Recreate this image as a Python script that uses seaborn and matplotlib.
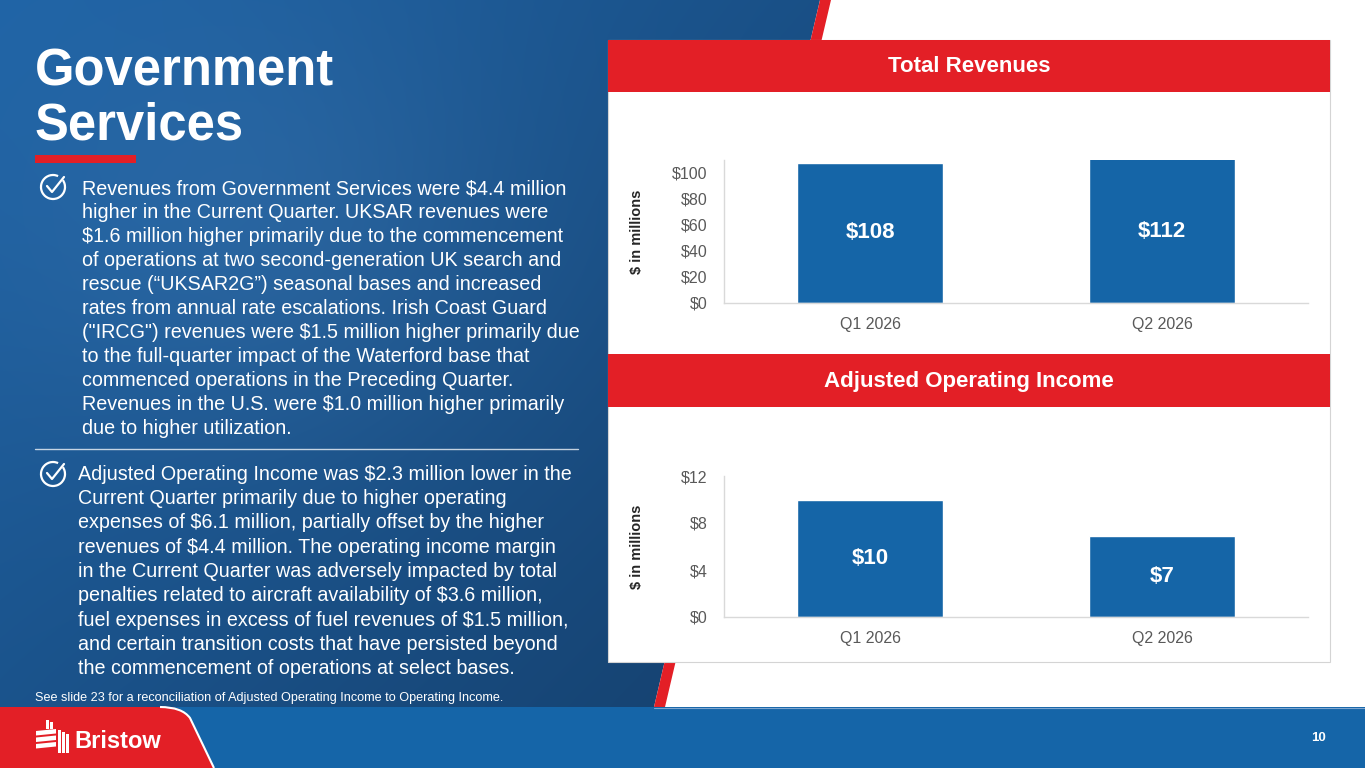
import numpy as np
import pandas as pd
import matplotlib
matplotlib.use("Agg")
import matplotlib.pyplot as plt
import seaborn as sns
from matplotlib.patches import Polygon, Rectangle, PathPatch, Arc
from matplotlib.path import Path
from matplotlib import font_manager

# ---------------- data ----------------
quarters = ["Q1 2026", "Q2 2026"]
revenues = [108, 112]
revenue_labels = ["$108", "$112"]
revenue_ticks = [0, 20, 40, 60, 80, 100]
aoi = [10.0, 6.9]
aoi_labels = ["$10", "$7"]
aoi_ticks = [0, 4, 8, 12]

title_lines = ["Government", "Services"]
bullet1 = [
    "Revenues from Government Services were $4.4 million",
    "higher in the Current Quarter. UKSAR revenues were",
    "$1.6 million higher primarily due to the commencement",
    "of operations at two second-generation UK search and",
    "rescue (\u201cUKSAR2G\u201d) seasonal bases and increased",
    "rates from annual rate escalations. Irish Coast Guard",
    "(\"IRCG\") revenues were $1.5 million higher primarily due",
    "to the full-quarter impact of the Waterford base that",
    "commenced operations in the Preceding Quarter.",
    "Revenues in the U.S. were $1.0 million higher primarily",
    "due to higher utilization.",
]
bullet2 = [
    "Adjusted Operating Income was $2.3 million lower in the",
    "Current Quarter primarily due to higher operating",
    "expenses of $6.1 million, partially offset by the higher",
    "revenues of $4.4 million. The operating income margin",
    "in the Current Quarter was adversely impacted by total",
    "penalties related to aircraft availability of $3.6 million,",
    "fuel expenses in excess of fuel revenues of $1.5 million,",
    "and certain transition costs that have persisted beyond",
    "the commencement of operations at select bases.",
]
footnote = "See slide 23 for a reconciliation of Adjusted Operating Income to Operating Income."
page_number = "10"

# ---------------- style ----------------
RED = "#e31f26"
BAR = "#1565a7"
BAND = "#1565a8"
TICK = "#595959"

sns.set_theme(style="white")
plt.rcParams["font.family"] = ["Liberation Sans", "DejaVu Sans"]
plt.rcParams["text.parse_math"] = False

names = {f.name for f in font_manager.fontManager.ttflist}
logo_font = "Liberation Sans Narrow" if "Liberation Sans Narrow" in names else "Liberation Sans"

W, H = 1365, 768
fig = plt.figure(figsize=(W / 100, H / 100), dpi=100)
fig.patch.set_facecolor("white")

bg = fig.add_axes([0, 0, 1, 1])
bg.set_xlim(0, W)
bg.set_ylim(H, 0)
bg.axis("off")
bg.set_zorder(0)

# blue gradient background (left region)
yy, xx = np.mgrid[0:H, 0:W].astype(float)
t = np.clip(0.55 * xx / 820 + 0.45 * yy / 707, 0, 1)
glow = np.exp(-(((xx - 260) / 260) ** 2 + ((yy - 230) / 230) ** 2))
c1 = np.array([0x1f, 0x63, 0xa5]) / 255
c2 = np.array([0x15, 0x40, 0x6d]) / 255
img = c1[None, None, :] * (1 - t[..., None]) + c2[None, None, :] * t[..., None]
img = np.clip(img + 0.05 * glow[..., None], 0, 1)
im = bg.imshow(img, extent=[0, W, H, 0], zorder=0, interpolation="bilinear")
blue_poly = Polygon([(0, 0), (820, 0), (654, 707), (0, 707)], closed=True,
                    transform=bg.transData, fc="none", ec="none")
bg.add_patch(blue_poly)
im.set_clip_path(blue_poly)
bg.set_xlim(0, W)
bg.set_ylim(H, 0)

# red slanted stripe
bg.add_patch(Polygon([(820, 0), (831, 0), (665, 707), (654, 707)], closed=True,
                     fc=RED, ec="none", zorder=1))

# title
bg.text(35, 86, title_lines[0], color="white", fontsize=36.5, fontweight="bold",
        va="baseline", ha="left", zorder=3)
bg.text(35, 140, title_lines[1], color="white", fontsize=36.5, fontweight="bold",
        va="baseline", ha="left", zorder=3)
bg.add_patch(Rectangle((35, 155), 101, 8, fc=RED, ec="none", zorder=3))


def check_icon(cx, cy, r=12):
    bg.add_patch(Arc((cx, cy), 2 * r, 2 * r, theta1=-35, theta2=295,
                     color="white", lw=1.6, zorder=3))
    bg.plot([cx - 6, cx - 1, cx + 11], [cy - 1, cy + 5, cy - 10],
            color="white", lw=1.6, solid_capstyle="round", zorder=3)


# bullets
check_icon(53, 187)
for i, line in enumerate(bullet1):
    bg.text(82, 194 + 24 * i, line, color="white", fontsize=14.2,
            va="baseline", ha="left", zorder=3)
bg.plot([35, 578], [449, 449], color="white", lw=1, alpha=0.75, zorder=3)
check_icon(53, 474)
for i, line in enumerate(bullet2):
    bg.text(78, 480 + 24.25 * i, line, color="white", fontsize=14.2,
            va="baseline", ha="left", zorder=3)
bg.text(35, 698, footnote, color="white", fontsize=9.1, va="center", ha="left", zorder=3)

# right panel
bg.add_patch(Rectangle((608, 40), 722, 622, fc="white", ec="#d4d4d4", lw=0.8, zorder=2))
bg.add_patch(Rectangle((608, 40), 722, 52, fc=RED, ec="none", zorder=2.5))
bg.add_patch(Rectangle((608, 354), 722, 53, fc=RED, ec="none", zorder=2.5))
bg.text(969, 67, "Total Revenues", color="white", fontsize=16, fontweight="bold",
        ha="center", va="center", zorder=3)
bg.text(969, 381, "Adjusted Operating Income", color="white", fontsize=16,
        fontweight="bold", ha="center", va="center", zorder=3)

# bottom band
bg.add_patch(Rectangle((0, 707), W, 61, fc=BAND, ec="none", zorder=2))
bg.plot([654, W], [707.5, 707.5], color="#7fa6cf", lw=0.8, zorder=2.2)
verts = [(0, 707), (168, 707), (182, 707), (190, 718), (214, 768), (0, 768), (0, 707)]
codes = [Path.MOVETO, Path.LINETO, Path.CURVE3, Path.CURVE3, Path.LINETO, Path.LINETO, Path.CLOSEPOLY]
bg.add_patch(PathPatch(Path(verts, codes), fc=RED, ec="none", zorder=2.5))
edge_verts = [(160, 707), (182, 707), (190, 718), (214, 768)]
edge_codes = [Path.MOVETO, Path.CURVE3, Path.CURVE3, Path.LINETO]
bg.add_patch(PathPatch(Path(edge_verts, edge_codes), fc="none", ec="white", lw=1.5, zorder=2.6))

# logo mark
for k in range(3):
    y0 = 731 + 6.5 * k
    bg.add_patch(Polygon([(36, y0), (56, y0 - 2), (56, y0 + 2.5), (36, y0 + 4.5)],
                         fc="white", ec="none", zorder=3))
for k in range(3):
    x0 = 58 + 4 * k
    bg.add_patch(Rectangle((x0, 730 + 2 * k), 2.6, 23 - 2 * k, fc="white", ec="none", zorder=3))
for k in range(2):
    x0 = 46 + 4 * k
    bg.add_patch(Rectangle((x0, 720 + 2 * k), 2.6, 9 - 2 * k, fc="white", ec="none", zorder=3))
bg.text(74, 742, "Bristow", color="white", fontsize=19 if logo_font != "Liberation Sans" else 17,
        fontweight="bold", family=logo_font, ha="left", va="center", zorder=3)
bg.text(1326, 738, page_number, color="white", fontsize=9.5, fontweight="bold",
        ha="right", va="center", zorder=3)

# ---------------- charts ----------------
def px_axes(left, right, top, bottom):
    return fig.add_axes([left / W, 1 - bottom / H, (right - left) / W, (bottom - top) / H])


def style_chart(ax, ticks, ylim, labels_txt):
    ax.set_facecolor("white")
    ax.set_ylim(*ylim)
    ax.set_yticks(ticks)
    ax.set_yticklabels([f"${v}" for v in ticks])
    ax.tick_params(axis="both", length=0, labelsize=11.5, labelcolor=TICK)
    ax.tick_params(axis="y", pad=12)
    ax.tick_params(axis="x", pad=10)
    for s in ["top", "right"]:
        ax.spines[s].set_visible(False)
    for s in ["left", "bottom"]:
        ax.spines[s].set_color("#d9d9d9")
        ax.spines[s].set_linewidth(1)
    ax.set_xlabel("")
    ax.set_ylabel("$ in millions", fontsize=10.5, fontweight="bold", color="#262626")
    ax.yaxis.set_label_coords(-80 / 584, 0.5)
    ax.grid(False)
    ax.bar_label(ax.containers[0], labels=labels_txt, label_type="center",
                 color="white", fontsize=16, fontweight="bold")


df_rev = pd.DataFrame({"quarter": quarters, "value": revenues})
ax1 = px_axes(724, 1308, 160, 303)
ax1.set_zorder(5)
sns.barplot(data=df_rev, x="quarter", y="value", color=BAR, saturation=1,
            width=0.5, ax=ax1)
style_chart(ax1, revenue_ticks, (0, 110), revenue_labels)

df_aoi = pd.DataFrame({"quarter": quarters, "value": aoi})
ax2 = px_axes(724, 1308, 476, 617)
ax2.set_zorder(5)
sns.barplot(data=df_aoi, x="quarter", y="value", color=BAR, saturation=1,
            width=0.5, ax=ax2)
style_chart(ax2, aoi_ticks, (0, 12), aoi_labels)

fig.savefig("out.png", dpi=100, facecolor=fig.get_facecolor())
